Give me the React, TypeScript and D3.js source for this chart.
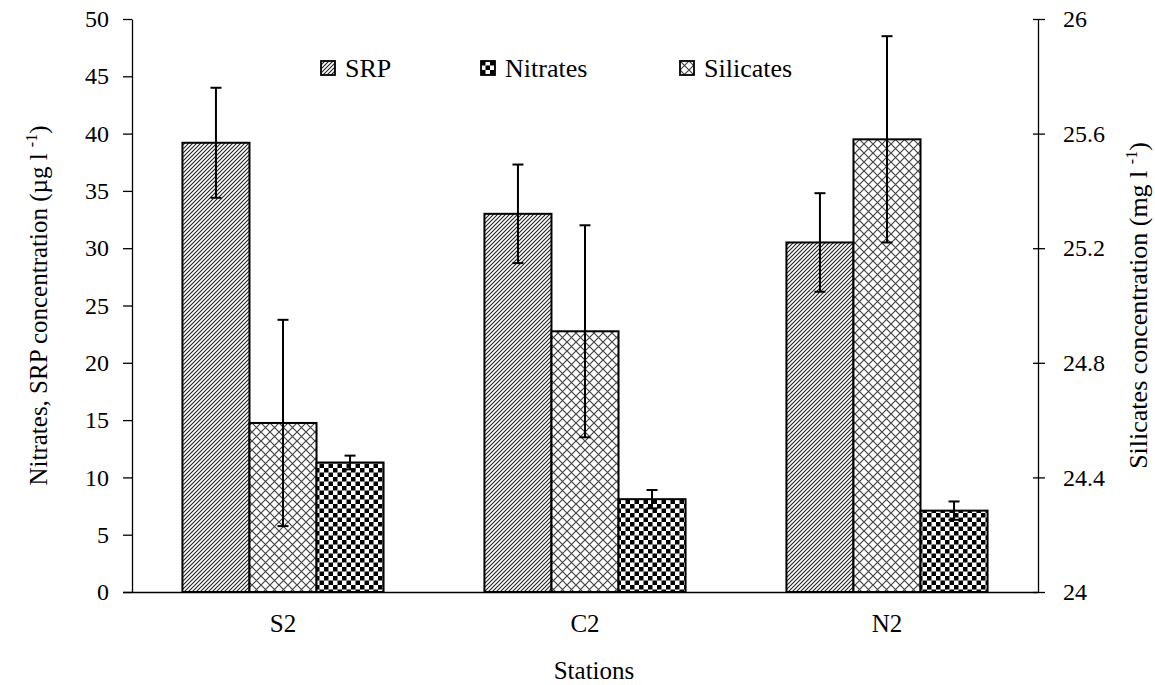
import React, { useEffect, useRef } from 'react';
import * as d3 from 'd3';

const stations = ['S2', 'C2', 'N2'];
const seriesOrder = ['SRP', 'Silicates', 'Nitrates'];
const legendOrder = ['SRP', 'Nitrates', 'Silicates'];

// left axis (µg l-1)
const srpValues = [39.2, 33.0, 30.5];
const srpErrors = [4.8, 4.3, 4.3];
const nitrateValues = [11.3, 8.1, 7.1];
const nitrateErrors = [0.6, 0.8, 0.8];
// right axis (mg l-1)
const silicateValues = [24.59, 24.91, 25.58];
const silicateErrors = [0.36, 0.37, 0.36];

const leftTicks = [0, 5, 10, 15, 20, 25, 30, 35, 40, 45, 50];
const rightTicks = [24, 24.4, 24.8, 25.2, 25.6, 26];

const FONT = "'Liberation Serif', serif";

const App: React.FC = () => {
    const chartRef = useRef<SVGSVGElement>(null);

    useEffect(() => {
        const svg = d3.select(chartRef.current);
        svg.selectAll("*").remove();

        const left = 132, right = 1038, top = 19, bottom = 592;

        const x0 = d3.scaleBand().domain(stations).range([left, right])
            .paddingInner(0.334).paddingOuter(0.167);
        const x1 = d3.scaleBand().domain(seriesOrder).range([0, x0.bandwidth()]);
        const yL = d3.scaleLinear().domain([0, 50]).range([bottom, top]);
        const yR = d3.scaleLinear().domain([24, 26]).range([bottom, top]);

        const defs = svg.append("defs");

        const srpPat = defs.append("pattern").attr("id", "pat-srp")
            .attr("patternUnits", "userSpaceOnUse").attr("width", 4).attr("height", 4);
        srpPat.append("rect").attr("width", 4).attr("height", 4).attr("fill", "#fff");
        srpPat.append("path").attr("d", "M-1,1 l2,-2 M0,4 l4,-4 M3,5 l2,-2")
            .attr("stroke", "#222").attr("stroke-width", 1.1);

        const silPat = defs.append("pattern").attr("id", "pat-sil")
            .attr("patternUnits", "userSpaceOnUse").attr("width", 9).attr("height", 9);
        silPat.append("rect").attr("width", 9).attr("height", 9).attr("fill", "#fff");
        silPat.append("path").attr("d", "M0,0 L9,9 M9,0 L0,9")
            .attr("stroke", "#444").attr("stroke-width", 1.2);

        const nitPat = defs.append("pattern").attr("id", "pat-nit")
            .attr("patternUnits", "userSpaceOnUse").attr("width", 9).attr("height", 9);
        nitPat.append("rect").attr("width", 9).attr("height", 9).attr("fill", "#fff");
        nitPat.append("rect").attr("x", 0).attr("y", 0).attr("width", 4.5).attr("height", 4.5).attr("fill", "#000");
        nitPat.append("rect").attr("x", 4.5).attr("y", 4.5).attr("width", 4.5).attr("height", 4.5).attr("fill", "#000");

        const fills: { [k: string]: string } = {
            SRP: "url(#pat-srp)",
            Silicates: "url(#pat-sil)",
            Nitrates: "url(#pat-nit)",
        };

        const rows = stations.flatMap((s, i) => [
            { station: s, key: 'SRP', y: yL(srpValues[i]), hi: yL(srpValues[i] + srpErrors[i]), lo: yL(srpValues[i] - srpErrors[i]) },
            { station: s, key: 'Silicates', y: yR(silicateValues[i]), hi: yR(silicateValues[i] + silicateErrors[i]), lo: yR(silicateValues[i] - silicateErrors[i]) },
            { station: s, key: 'Nitrates', y: yL(nitrateValues[i]), hi: yL(nitrateValues[i] + nitrateErrors[i]), lo: yL(nitrateValues[i] - nitrateErrors[i]) },
        ]);

        const g = svg.append("g");

        g.selectAll("rect.bar")
            .data(rows)
            .enter().append("rect")
            .attr("class", "bar")
            // @ts-ignore
            .attr("x", d => x0(d.station) + x1(d.key))
            .attr("y", d => d.y)
            .attr("width", x1.bandwidth())
            .attr("height", d => bottom - d.y)
            .attr("fill", d => fills[d.key])
            .attr("stroke", "#000")
            .attr("stroke-width", 2);

        // error bars
        const eb = g.selectAll("g.err")
            .data(rows)
            .enter().append("g")
            .attr("class", "err")
            // @ts-ignore
            .attr("transform", d => `translate(${x0(d.station) + x1(d.key) + x1.bandwidth() / 2},0)`);
        eb.append("line").attr("y1", d => d.hi).attr("y2", d => d.lo)
            .attr("stroke", "#000").attr("stroke-width", 2);
        eb.append("line").attr("x1", -5.5).attr("x2", 5.5).attr("y1", d => d.hi).attr("y2", d => d.hi)
            .attr("stroke", "#000").attr("stroke-width", 2);
        eb.append("line").attr("x1", -5.5).attr("x2", 5.5).attr("y1", d => d.lo).attr("y2", d => d.lo)
            .attr("stroke", "#000").attr("stroke-width", 2);

        // left axis
        const axL = svg.append("g")
            .attr("transform", `translate(${left},0)`)
            .call(d3.axisLeft(yL).tickValues(leftTicks).tickSize(9).tickPadding(14).tickSizeOuter(0));
        // right axis
        const axR = svg.append("g")
            .attr("transform", `translate(${right},0)`)
            .call(d3.axisRight(yR).tickValues(rightTicks).tickFormat(d3.format("")).tickSize(7).tickPadding(18).tickSizeOuter(0));
        axR.selectAll(".tick line").attr("x1", -5);
        // bottom axis
        const axB = svg.append("g")
            .attr("transform", `translate(0,${bottom})`)
            .call(d3.axisBottom(x0).tickSize(0).tickPadding(22).tickSizeOuter(0));
        axB.select(".domain").attr("d", `M${left - 9},0.5H${right}`);

        [axL, axR, axB].forEach(ax => {
            ax.attr("font-family", FONT);
            ax.selectAll("text").attr("font-family", FONT).attr("font-size", 24).attr("fill", "#000");
            ax.selectAll("line").attr("stroke", "#000").attr("stroke-width", 1.3);
            ax.select(".domain").attr("stroke", "#000").attr("stroke-width", 1.3);
        });
        axB.selectAll("text").attr("font-size", 25);

        // axis titles
        const lt = svg.append("text")
            .attr("transform", `translate(47,${(top + bottom) / 2}) rotate(-90)`)
            .attr("text-anchor", "middle")
            .attr("font-family", FONT).attr("font-size", 25);
        lt.append("tspan").text("Nitrates, SRP concentration (µg l ");
        lt.append("tspan").attr("font-size", 16).attr("dy", -10).text("-1");
        lt.append("tspan").attr("dy", 10).text(")");

        const rt = svg.append("text")
            .attr("transform", `translate(1147,${(top + bottom) / 2}) rotate(-90)`)
            .attr("text-anchor", "middle")
            .attr("font-family", FONT).attr("font-size", 26);
        rt.append("tspan").text("Silicates concentration (mg l ");
        rt.append("tspan").attr("font-size", 16).attr("dy", -10).text("-1");
        rt.append("tspan").attr("dy", 10).text(")");

        svg.append("text")
            .attr("x", 594)
            .attr("y", 679)
            .attr("text-anchor", "middle")
            .attr("font-family", FONT).attr("font-size", 25)
            .text("Stations");

        // legend
        const legendX = [321, 481, 680];
        const leg = svg.append("g").selectAll("g")
            .data(legendOrder)
            .enter().append("g")
            .attr("transform", (d, i) => `translate(${legendX[i]},61)`);
        leg.append("rect").attr("width", 14).attr("height", 14)
            .attr("fill", d => fills[d]).attr("stroke", "#000").attr("stroke-width", 1.8);
        leg.append("text").attr("x", 24).attr("y", 16)
            .attr("font-family", FONT).attr("font-size", 26)
            .text(d => d);
    }, []);

    return (
        <svg ref={chartRef} width="1155" height="685"
            style={{ position: 'absolute', left: 0, top: 0, background: '#fff' }}></svg>
    );
};

export default App;
